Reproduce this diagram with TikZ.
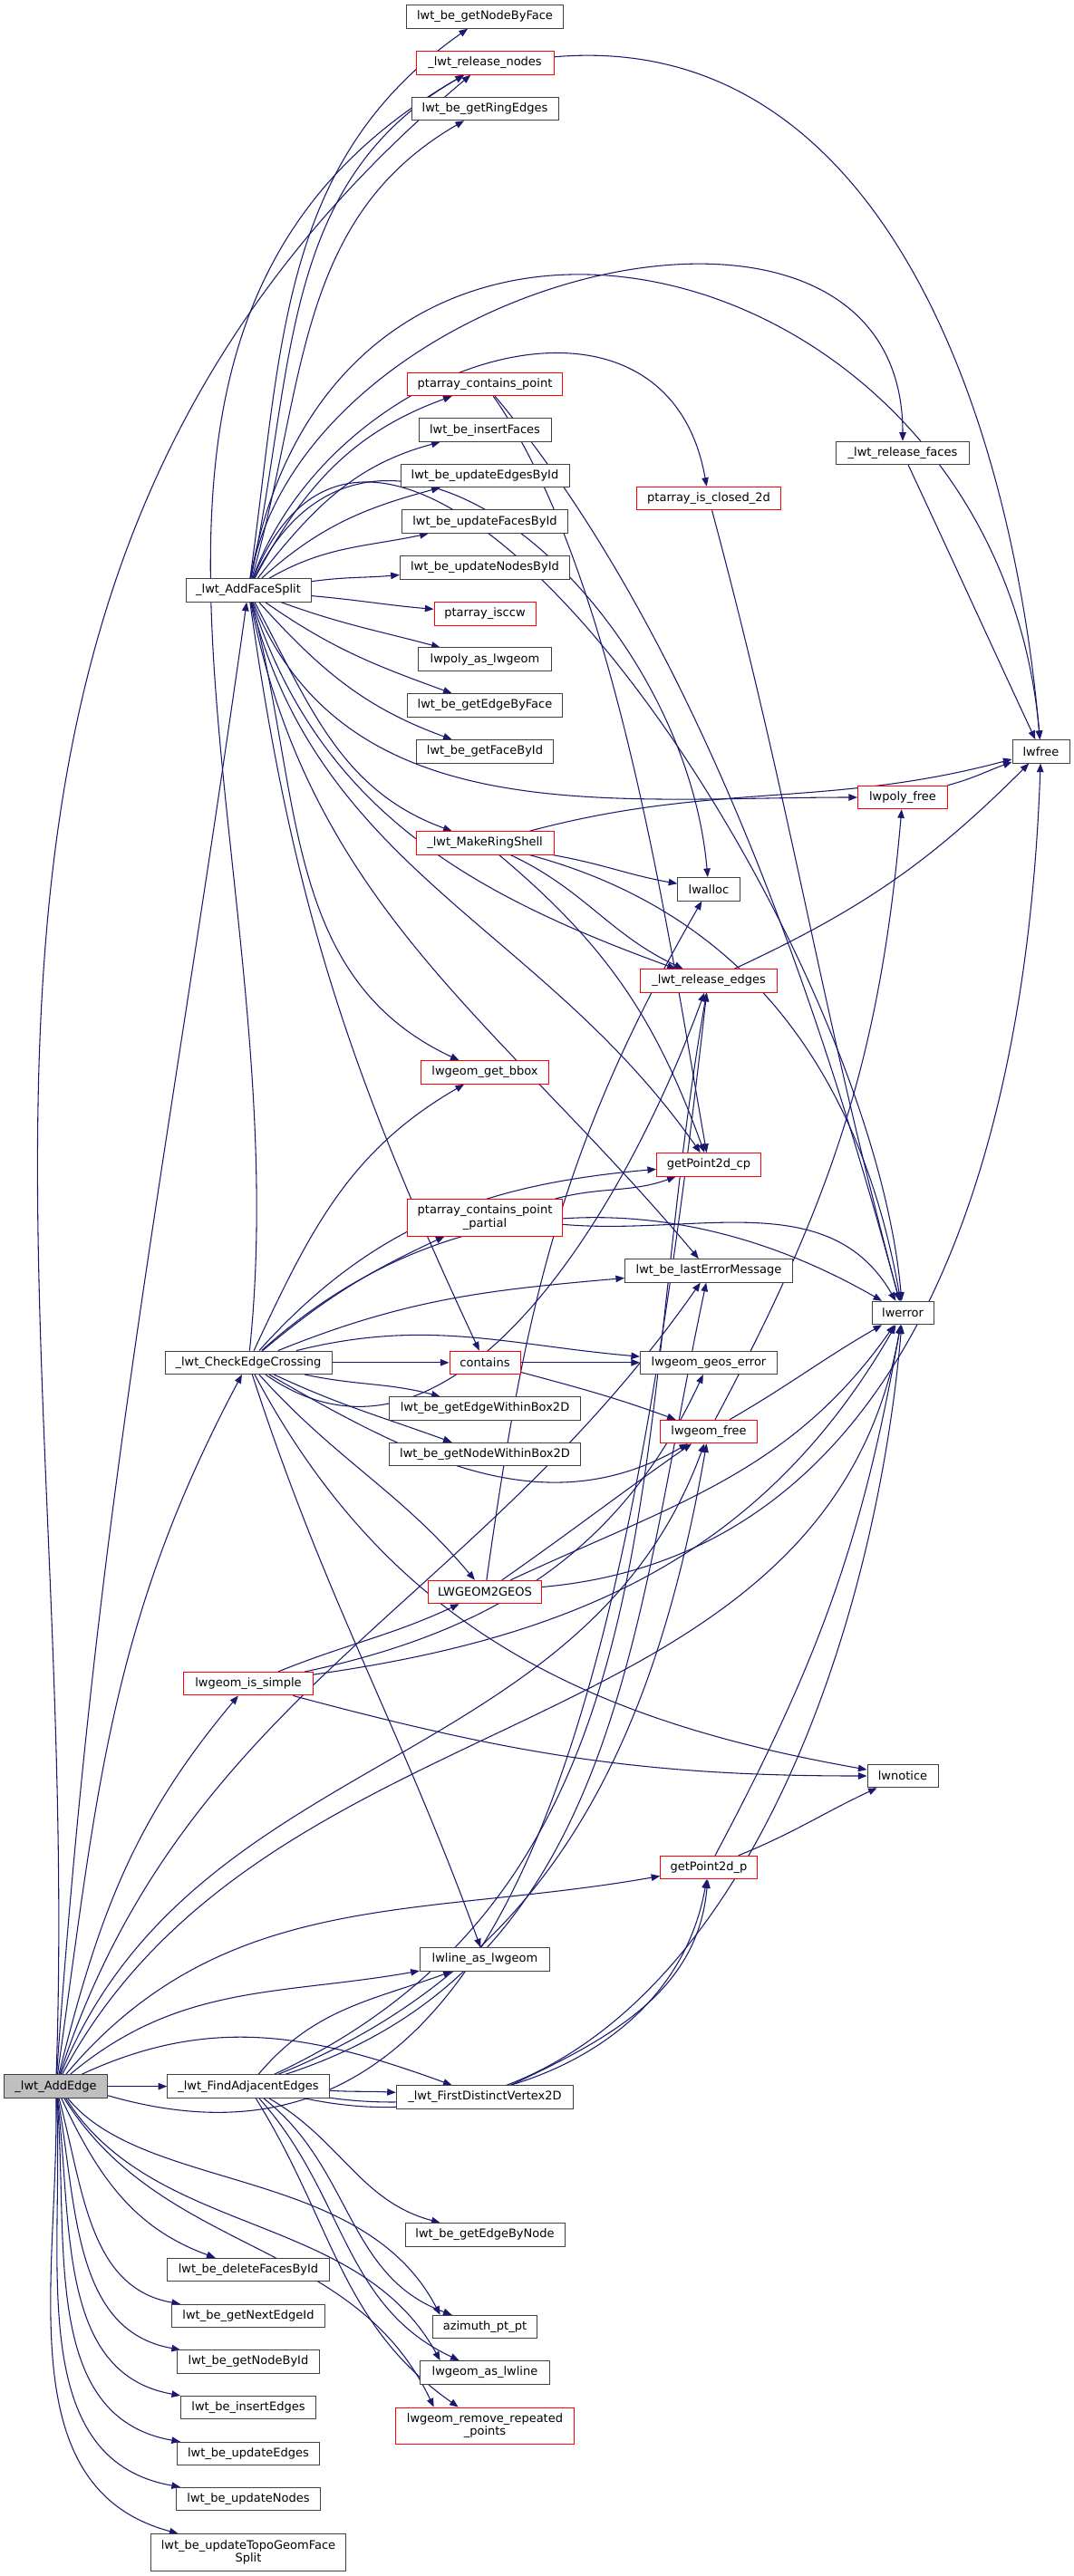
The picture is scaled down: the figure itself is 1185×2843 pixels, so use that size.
\documentclass[tikz,border=0pt]{standalone}
\usepackage{fontspec}
\setmainfont{DejaVu Sans}
\usepackage{tikz}
\usetikzlibrary{arrows.meta, backgrounds}
\definecolor{edgeblue}{HTML}{191970}
\definecolor{boxgray}{HTML}{404040}
\definecolor{boxred}{HTML}{FF0000}
\definecolor{rootfill}{HTML}{BFBFBF}

\begin{document}
\begin{tikzpicture}[x=0.375pt, y=-0.375pt,
  every node/.style={font=\fontsize{4.875}{5.5}\selectfont, inner sep=0pt},
  fn/.style={draw=boxgray, fill=white, line width=0.375pt, minimum height=9.55pt, minimum width=#1*0.375pt},
  fnred/.style={fn=#1, draw=boxred},
  call/.style={edgeblue, line width=0.4pt, -{Triangle[length=3.6pt,width=2.8pt]}}]
\useasboundingbox (0,0) rectangle (1185,2843);

% --- Root ---
\node[fn=114, fill=rootfill] (addEdge) at (61.6,2302.6) {\_lwt\_AddEdge};

% --- Plain functions ---
\foreach \nm/\x/\y/\w/\txt in {
  addFaceSplit/274/651.5/138/\_lwt\_AddFaceSplit,
  checkEdgeCrossing/274/1503.8/184/\_lwt\_CheckEdgeCrossing,
  findAdjacentEdges/274/2302.6/178.5/\_lwt\_FindAdjacentEdges,
  deleteFacesById/274/2505/178.5/lwt\_be\_deleteFacesById,
  getNextEdgeId/274/2556/169/lwt\_be\_getNextEdgeId,
  getNodeById/274/2606.5/156.4/lwt\_be\_getNodeById,
  insertEdges/274/2657/149/lwt\_be\_insertEdges,
  updateEdges/274/2708/156.4/lwt\_be\_updateEdges,
  updateNodes/274/2758/159/lwt\_be\_updateNodes,
  getNodeByFace/535/18.5/173.5/lwt\_be\_getNodeByFace,
  getRingEdges/535/120/162/lwt\_be\_getRingEdges,
  insertFaces/535/474.6/146/lwt\_be\_insertFaces,
  updateEdgesById/535/525/186/lwt\_be\_updateEdgesById,
  updateFacesById/535/575.6/182.5/lwt\_be\_updateFacesById,
  updateNodesById/535/626.3/187.4/lwt\_be\_updateNodesById,
  lwpolyAsLwgeom/535/727.7/146.7/lwpoly\_as\_lwgeom,
  getEdgeByFace/535/778.4/171/lwt\_be\_getEdgeByFace,
  getFaceById/535/829.3/151/lwt\_be\_getFaceById,
  getEdgeWithinBox/535/1554.5/210.7/lwt\_be\_getEdgeWithinBox2D,
  getNodeWithinBox/535/1605/211.6/lwt\_be\_getNodeWithinBox2D,
  lwlineAsLwgeom/535/2162.4/143.5/lwline\_as\_lwgeom,
  firstDistinctVertex/535/2314.5/195.4/\_lwt\_FirstDistinctVertex2D,
  getEdgeByNode/535/2466.3/176/lwt\_be\_getEdgeByNode,
  azimuth/535/2568/115.2/azimuth\_pt\_pt,
  lwgeomAsLwline/535/2618.3/143.5/lwgeom\_as\_lwline,
  lwalloc/782/981.3/68.4/lwalloc,
  lastErrorMessage/782/1402.4/185/lwt\_be\_lastErrorMessage,
  geosError/782/1503.8/151/lwgeom\_geos\_error,
  releaseFaces/996/500/146.5/\_lwt\_release\_faces,
  lwerror/996/1449/68/lwerror,
  lwnotice/996/1960/78/lwnotice,
  lwfree/1148.5/829.3/63/lwfree}{
  \node[fn=\w] (\nm) at (\x,\y) {\txt};
}
\node[fn=215, minimum height=15.2pt, align=center] (updateTopoGeom) at (274,2816.8) {lwt\_be\_updateTopoGeomFace\\Split};

% --- Functions with hidden callees (red) ---
\foreach \nm/\x/\y/\w/\txt in {
  releaseNodes/535/69.5/152/\_lwt\_release\_nodes,
  ptContainsPoint/535/424/171.6/ptarray\_contains\_point,
  ptIsccw/535/677.3/112/ptarray\_isccw,
  makeRingShell/535/930.4/152/\_lwt\_MakeRingShell,
  getBbox/535/1183.5/141.7/lwgeom\_get\_bbox,
  contains/535/1503.8/78/contains,
  lwgeomToGeos/535/1757/125/LWGEOM2GEOS,
  isSimple/274/1858.2/143/lwgeom\_is\_simple,
  ptIsClosed/782/550/158.5/ptarray\_is\_closed\_2d,
  releaseEdges/782/1082.4/151/\_lwt\_release\_edges,
  getPointCp/782/1285.3/115/getPoint2d\_cp,
  lwgeomFree/782/1580/106.5/lwgeom\_free,
  getPointP/782/2061/106.5/getPoint2d\_p,
  lwpolyFree/996/880/99/lwpoly\_free}{
  \node[fnred=\w] (\nm) at (\x,\y) {\txt};
}
\node[fnred=170.7, minimum height=15.2pt, align=center] (ptContainsPartial) at (535,1343.8) {ptarray\_contains\_point\\\_partial};
\node[fnred=196.6, minimum height=15pt, align=center] (removeRepeated) at (535,2677) {lwgeom\_remove\_repeated\\\_points};

\begin{scope}[on background layer]
\fill[white] (0,0) rectangle (1185,2843);

% --- Calls: source/target/out/in ---
\foreach \a/\b/\o/\i in {
  addEdge/releaseNodes/88/-140, addEdge/addFaceSplit/86/-98,
  addEdge/checkEdgeCrossing/82/-118, addEdge/isSimple/76/-130,
  addEdge/lastErrorMessage/72/-125, addEdge/lwgeomFree/68/-110,
  addEdge/lwerror/62/-100, addEdge/getPointP/50/190,
  addEdge/lwlineAsLwgeom/40/190, addEdge/firstDistinctVertex/25/160,
  addEdge/findAdjacentEdges/0/180, addEdge/deleteFacesById/-65/160,
  addEdge/getNextEdgeId/-75/170, addEdge/getNodeById/-80/170,
  addEdge/insertEdges/-83/170, addEdge/updateEdges/-85/170,
  addEdge/updateNodes/-87/170, addEdge/updateTopoGeom/-89/165,
  addFaceSplit/getNodeByFace/82/-145, addFaceSplit/releaseNodes/78/-150,
  addFaceSplit/getRingEdges/74/-150, addFaceSplit/ptContainsPoint/62/-160,
  addFaceSplit/insertFaces/52/-165, addFaceSplit/updateEdgesById/42/-165,
  addFaceSplit/updateFacesById/30/-168, addFaceSplit/updateNodesById/8/-175,
  addFaceSplit/ptIsccw/-5/175, addFaceSplit/lwpolyAsLwgeom/-20/165,
  addFaceSplit/getEdgeByFace/-35/160, addFaceSplit/getFaceById/-48/160,
  addFaceSplit/makeRingShell/-62/160, addFaceSplit/getBbox/-75/155,
  addFaceSplit/contains/-82/115, addFaceSplit/lwpolyFree/-68/180,
  addFaceSplit/releaseEdges/-72/160, addFaceSplit/getPointCp/-76/125,
  addFaceSplit/lastErrorMessage/-79/130,
  makeRingShell/lwfree/15/195, makeRingShell/lwalloc/-10/170,
  makeRingShell/releaseEdges/-25/155, makeRingShell/getPointCp/-40/110,
  makeRingShell/lwerror/-15/100,
  ptIsClosed/lwerror/-75/105, releaseFaces/lwfree/-65/115,
  releaseEdges/lwfree/25/-135, lwpolyFree/lwfree/15/-160,
  checkEdgeCrossing/releaseNodes/84/-150, checkEdgeCrossing/getBbox/65/-150,
  checkEdgeCrossing/ptContainsPartial/40/-155, checkEdgeCrossing/getPointCp/48/185,
  checkEdgeCrossing/lwerror/42/150, checkEdgeCrossing/lastErrorMessage/22/185,
  checkEdgeCrossing/contains/0/180, checkEdgeCrossing/geosError/14/175,
  checkEdgeCrossing/getEdgeWithinBox/-12/165, checkEdgeCrossing/getNodeWithinBox/-25/160,
  checkEdgeCrossing/releaseEdges/-35/-110, checkEdgeCrossing/lwgeomToGeos/-48/130,
  checkEdgeCrossing/lwgeomFree/-30/-150, checkEdgeCrossing/lwnotice/-62/170,
  checkEdgeCrossing/lwlineAsLwgeom/-72/110,
  ptContainsPartial/getPointCp/15/-160, ptContainsPartial/lwerror/-5/120,
  contains/geosError/0/180, contains/lwgeomFree/-15/160,
  isSimple/lwgeomToGeos/22/-155, isSimple/lwerror/8/-120,
  isSimple/geosError/12/-115, isSimple/lwnotice/-15/180,
  lwgeomToGeos/lwalloc/82/-120, lwgeomToGeos/lwerror/25/-125,
  lwgeomToGeos/lwfree/5/-92, lwgeomToGeos/lwgeomFree/35/-145,
  lwgeomFree/lwpolyFree/62/-95, lwgeomFree/lwerror/30/-150,
  getPointP/lwnotice/22/-155, getPointP/lwerror/62/-100,
  findAdjacentEdges/lwlineAsLwgeom/50/-160, findAdjacentEdges/releaseEdges/25/-100,
  findAdjacentEdges/lastErrorMessage/18/-102, findAdjacentEdges/lwgeomFree/22/-100,
  findAdjacentEdges/firstDistinctVertex/-3/177, findAdjacentEdges/getPointP/-8/-100,
  findAdjacentEdges/lwerror/-12/-95, findAdjacentEdges/getEdgeByNode/-30/165,
  findAdjacentEdges/azimuth/-38/160, findAdjacentEdges/lwgeomAsLwline/-48/155,
  findAdjacentEdges/removeRepeated/-58/145,
  firstDistinctVertex/getPointP/25/-95}{
  \draw[call] (\a) to[out=\o,in=\i] (\b);
}

% --- Long arches and steep drops ---
\foreach \a/\b/\o/\i/\l in {
  addFaceSplit/releaseFaces/80/90/1.2, addFaceSplit/lwfree/80/95/1.6,
  addFaceSplit/ptIsClosed/70/100/1.3, addFaceSplit/lwerror/68/95/1,
  addFaceSplit/lwalloc/64/95/1.3, releaseNodes/lwfree/5/95/1,
  ptContainsPoint/getPointCp/-55/100/0.7, ptContainsPoint/lwerror/-50/105/0.8}{
  \draw[call] (\a) to[out=\o,in=\i,looseness=\l] (\b);
}

% --- Calls routed between the rows ---
\draw[call] (addEdge.-10) .. controls (560,2440) and (690,1900) .. (releaseEdges.-100);
\draw[call] (addEdge.-45) .. controls (160,2420) and (400,2390) .. (azimuth.165);
\draw[call] (addEdge.-50) .. controls (170,2470) and (395,2440) .. (lwgeomAsLwline.165);
\draw[call] (addEdge.-55) .. controls (180,2490) and (390,2470) .. (removeRepeated.160);
\end{scope}
\end{tikzpicture}
\end{document}
